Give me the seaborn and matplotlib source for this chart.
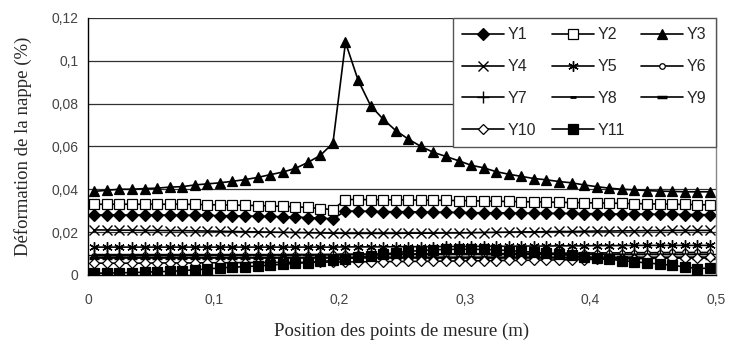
import numpy as np
import pandas as pd
import matplotlib
matplotlib.use("Agg")
import matplotlib.pyplot as plt
import seaborn as sns

# measurement positions (m)
positions = np.linspace(0.005, 0.495, 50)

Y1 = [0.0280, 0.0280, 0.0280, 0.0280, 0.0280, 0.0280, 0.0279, 0.0279, 0.0278, 0.0278,
      0.0277, 0.0276, 0.0275, 0.0274, 0.0273, 0.0272, 0.0270, 0.0268, 0.0265, 0.0262,
      0.0298, 0.0298, 0.0297, 0.0296, 0.0295, 0.0295, 0.0294, 0.0293, 0.0292, 0.0292,
      0.0291, 0.0290, 0.0290, 0.0289, 0.0289, 0.0288, 0.0288, 0.0287, 0.0287, 0.0286,
      0.0286, 0.0285, 0.0285, 0.0284, 0.0284, 0.0283, 0.0283, 0.0282, 0.0282, 0.0281]
Y2 = [0.0330, 0.0330, 0.0330, 0.0330, 0.0330, 0.0330, 0.0330, 0.0330, 0.0329, 0.0328,
      0.0327, 0.0326, 0.0325, 0.0324, 0.0322, 0.0320, 0.0318, 0.0315, 0.0310, 0.0305,
      0.0352, 0.0352, 0.0351, 0.0351, 0.0350, 0.0350, 0.0349, 0.0349, 0.0348, 0.0347,
      0.0346, 0.0345, 0.0344, 0.0343, 0.0342, 0.0341, 0.0340, 0.0339, 0.0338, 0.0337,
      0.0336, 0.0335, 0.0334, 0.0333, 0.0332, 0.0331, 0.0330, 0.0329, 0.0328, 0.0327]
Y3 = [0.0390, 0.0395, 0.0400, 0.0400, 0.0403, 0.0405, 0.0410, 0.0412, 0.0420, 0.0425,
      0.0430, 0.0437, 0.0445, 0.0455, 0.0468, 0.0480, 0.0497, 0.0525, 0.0558, 0.0615,
      0.1085, 0.0910, 0.0790, 0.0727, 0.0674, 0.0634, 0.0600, 0.0572, 0.0553, 0.0533,
      0.0512, 0.0500, 0.0482, 0.0470, 0.0460, 0.0450, 0.0444, 0.0436, 0.0430, 0.0420,
      0.0412, 0.0405, 0.0400, 0.0397, 0.0394, 0.0391, 0.0390, 0.0388, 0.0388, 0.0388]
Y4 = [0.0210, 0.0210, 0.0209, 0.0209, 0.0208, 0.0208, 0.0207, 0.0207, 0.0206, 0.0205,
      0.0204, 0.0203, 0.0202, 0.0201, 0.0200, 0.0199, 0.0198, 0.0197, 0.0196, 0.0195,
      0.0194, 0.0194, 0.0194, 0.0194, 0.0194, 0.0195, 0.0195, 0.0195, 0.0196, 0.0196,
      0.0197, 0.0198, 0.0199, 0.0200, 0.0201, 0.0201, 0.0202, 0.0203, 0.0203, 0.0204,
      0.0205, 0.0205, 0.0206, 0.0206, 0.0207, 0.0207, 0.0208, 0.0208, 0.0208, 0.0208]
Y5 = [0.0130, 0.0130, 0.0130, 0.0130, 0.0130, 0.0130, 0.0130, 0.0130, 0.0130, 0.0130,
      0.0130, 0.0130, 0.0130, 0.0130, 0.0130, 0.0130, 0.0130, 0.0130, 0.0130, 0.0130,
      0.0131, 0.0131, 0.0131, 0.0131, 0.0132, 0.0132, 0.0132, 0.0132, 0.0133, 0.0133,
      0.0133, 0.0134, 0.0134, 0.0134, 0.0135, 0.0135, 0.0135, 0.0136, 0.0136, 0.0136,
      0.0137, 0.0137, 0.0137, 0.0138, 0.0138, 0.0138, 0.0138, 0.0138, 0.0138, 0.0138]
Y6 = [0.0090, 0.0090, 0.0090, 0.0090, 0.0091, 0.0091, 0.0091, 0.0092, 0.0092, 0.0092,
      0.0093, 0.0093, 0.0093, 0.0094, 0.0094, 0.0094, 0.0095, 0.0095, 0.0095, 0.0096,
      0.0096, 0.0096, 0.0097, 0.0097, 0.0097, 0.0098, 0.0098, 0.0098, 0.0099, 0.0099,
      0.0099, 0.0100, 0.0100, 0.0100, 0.0101, 0.0101, 0.0101, 0.0102, 0.0102, 0.0102,
      0.0103, 0.0103, 0.0103, 0.0104, 0.0104, 0.0104, 0.0105, 0.0105, 0.0105, 0.0105]
Y7 = [0.0095, 0.0095, 0.0095, 0.0095, 0.0095, 0.0095, 0.0095, 0.0095, 0.0095, 0.0095,
      0.0095, 0.0095, 0.0095, 0.0095, 0.0095, 0.0095, 0.0095, 0.0095, 0.0095, 0.0095,
      0.0096, 0.0096, 0.0096, 0.0096, 0.0096, 0.0096, 0.0096, 0.0096, 0.0096, 0.0096,
      0.0096, 0.0096, 0.0096, 0.0096, 0.0096, 0.0096, 0.0096, 0.0096, 0.0096, 0.0096,
      0.0096, 0.0096, 0.0096, 0.0096, 0.0096, 0.0096, 0.0096, 0.0096, 0.0096, 0.0096]
Y8 = [0.0082, 0.0082, 0.0082, 0.0082, 0.0082, 0.0082, 0.0082, 0.0082, 0.0082, 0.0082,
      0.0082, 0.0082, 0.0082, 0.0082, 0.0082, 0.0082, 0.0082, 0.0082, 0.0082, 0.0082,
      0.0083, 0.0083, 0.0083, 0.0083, 0.0083, 0.0083, 0.0083, 0.0083, 0.0083, 0.0083,
      0.0083, 0.0083, 0.0083, 0.0083, 0.0083, 0.0083, 0.0083, 0.0083, 0.0083, 0.0083,
      0.0083, 0.0083, 0.0083, 0.0083, 0.0083, 0.0083, 0.0083, 0.0083, 0.0083, 0.0083]
Y9 = [0.0078, 0.0078, 0.0078, 0.0078, 0.0078, 0.0078, 0.0078, 0.0078, 0.0078, 0.0078,
      0.0078, 0.0078, 0.0078, 0.0078, 0.0078, 0.0078, 0.0078, 0.0078, 0.0078, 0.0078,
      0.0078, 0.0078, 0.0078, 0.0078, 0.0078, 0.0078, 0.0078, 0.0078, 0.0078, 0.0078,
      0.0078, 0.0078, 0.0078, 0.0078, 0.0078, 0.0078, 0.0078, 0.0078, 0.0078, 0.0078,
      0.0078, 0.0078, 0.0078, 0.0078, 0.0078, 0.0078, 0.0078, 0.0078, 0.0078, 0.0078]
Y10 = [0.0055, 0.0055, 0.0055, 0.0055, 0.0055, 0.0056, 0.0056, 0.0056, 0.0056, 0.0057,
       0.0057, 0.0057, 0.0058, 0.0058, 0.0058, 0.0059, 0.0059, 0.0059, 0.0060, 0.0060,
       0.0061, 0.0061, 0.0062, 0.0062, 0.0063, 0.0063, 0.0064, 0.0064, 0.0065, 0.0065,
       0.0066, 0.0066, 0.0067, 0.0068, 0.0068, 0.0069, 0.0070, 0.0070, 0.0071, 0.0072,
       0.0073, 0.0074, 0.0075, 0.0076, 0.0077, 0.0078, 0.0079, 0.0080, 0.0081, 0.0082]
Y11 = [0.0008, 0.0009, 0.0010, 0.0011, 0.0013, 0.0015, 0.0017, 0.0020, 0.0024, 0.0028,
       0.0033, 0.0036, 0.0039, 0.0042, 0.0046, 0.0050, 0.0054, 0.0058, 0.0063, 0.0068,
       0.0075, 0.0082, 0.0090, 0.0097, 0.0104, 0.0110, 0.0114, 0.0117, 0.0119, 0.0120,
       0.0120, 0.0119, 0.0117, 0.0114, 0.0110, 0.0106, 0.0101, 0.0096, 0.0091, 0.0085,
       0.0079, 0.0073, 0.0067, 0.0062, 0.0056, 0.0051, 0.0045, 0.0038, 0.0030, 0.0032]

series = {"Y1": Y1, "Y2": Y2, "Y3": Y3, "Y4": Y4, "Y5": Y5, "Y6": Y6,
          "Y7": Y7, "Y8": Y8, "Y9": Y9, "Y10": Y10, "Y11": Y11}

styles = {
    "Y1": dict(marker="D", ms=6, mfc="black"),
    "Y2": dict(marker="s", ms=6.5, mfc="white"),
    "Y3": dict(marker="^", ms=7.5, mfc="black"),
    "Y4": dict(marker="x", ms=6.5, mfc="black", mew=1.0),
    "Y5": dict(marker=(6, 2, 0), ms=7.5, mfc="black", mew=1.0),
    "Y6": dict(marker="o", ms=4, mfc="white"),
    "Y7": dict(marker="+", ms=8, mfc="black", mew=1.0),
    "Y8": dict(marker="_", ms=4, mfc="black", mew=2.0),
    "Y9": dict(marker="_", ms=7, mfc="black", mew=2.5),
    "Y10": dict(marker="D", ms=5.5, mfc="white"),
    "Y11": dict(marker="s", ms=6.5, mfc="black"),
}

sns.set_style("white")
plt.rcParams["font.family"] = ["Liberation Sans", "DejaVu Sans"]

fig = plt.figure(figsize=(7.29, 3.42), dpi=100)
ax = fig.add_axes([0.1207, 0.196, 0.8615, 0.752])

for name, vals in series.items():
    df = pd.DataFrame({"x": positions, "y": vals})
    st = styles[name]
    sns.lineplot(data=df, x="x", y="y", ax=ax, color="black", lw=1.2,
                 marker=st["marker"], markersize=st["ms"],
                 markerfacecolor=st["mfc"], markeredgecolor="black",
                 markeredgewidth=st.get("mew", 0.9), label=name)

ax.set_xlim(0, 0.5)
ax.set_ylim(0, 0.12)
yt = [0, 0.02, 0.04, 0.06, 0.08, 0.1, 0.12]
xt = [0, 0.1, 0.2, 0.3, 0.4, 0.5]
ax.set_yticks(yt)
ax.set_yticklabels(["0", "0,02", "0,04", "0,06", "0,08", "0,1", "0,12"])
ax.set_xticks(xt)
ax.set_xticklabels(["0", "0,1", "0,2", "0,3", "0,4", "0,5"])
ax.tick_params(axis="both", direction="out", length=4, width=0.8, colors="black",
               labelsize=10, labelcolor="#444444", pad=3)
ax.tick_params(axis="x", pad=9)
ax.yaxis.grid(True, color="#303030", lw=0.9)
ax.xaxis.grid(False)
ax.set_axisbelow(True)
for side in ["left", "bottom"]:
    ax.spines[side].set_color("black")
    ax.spines[side].set_linewidth(1.0)
ax.spines["top"].set_visible(False)
ax.spines["right"].set_color("#888888")
ax.spines["right"].set_linewidth(1.0)

ax.set_xlabel("Position des points de mesure (m)", family=["Liberation Serif"],
              fontsize=13.5, labelpad=11)
ax.set_ylabel("Déformation de la nappe (%)", family=["Liberation Serif"],
              fontsize=13.5, labelpad=14)

# legend filled row by row: Y1 Y2 Y3 / Y4 Y5 Y6 / ...
handles, labels = ax.get_legend_handles_labels()
order = ["Y1", "Y4", "Y7", "Y10", "Y2", "Y5", "Y8", "Y11", "Y3", "Y6", "Y9"]
hmap = dict(zip(labels, handles))
leg = ax.legend([hmap[k] for k in order], order, loc="upper right",
                bbox_to_anchor=(1.0, 1.0), ncol=3,
                fontsize=11.5, frameon=True, fancybox=False, framealpha=1,
                edgecolor="#555555", borderaxespad=0, handlelength=2.6,
                handletextpad=0.25, columnspacing=1.0, labelspacing=1.05,
                borderpad=0.6)
leg.get_frame().set_linewidth(1.0)

fig.savefig("out.png", dpi=100, facecolor="white")
